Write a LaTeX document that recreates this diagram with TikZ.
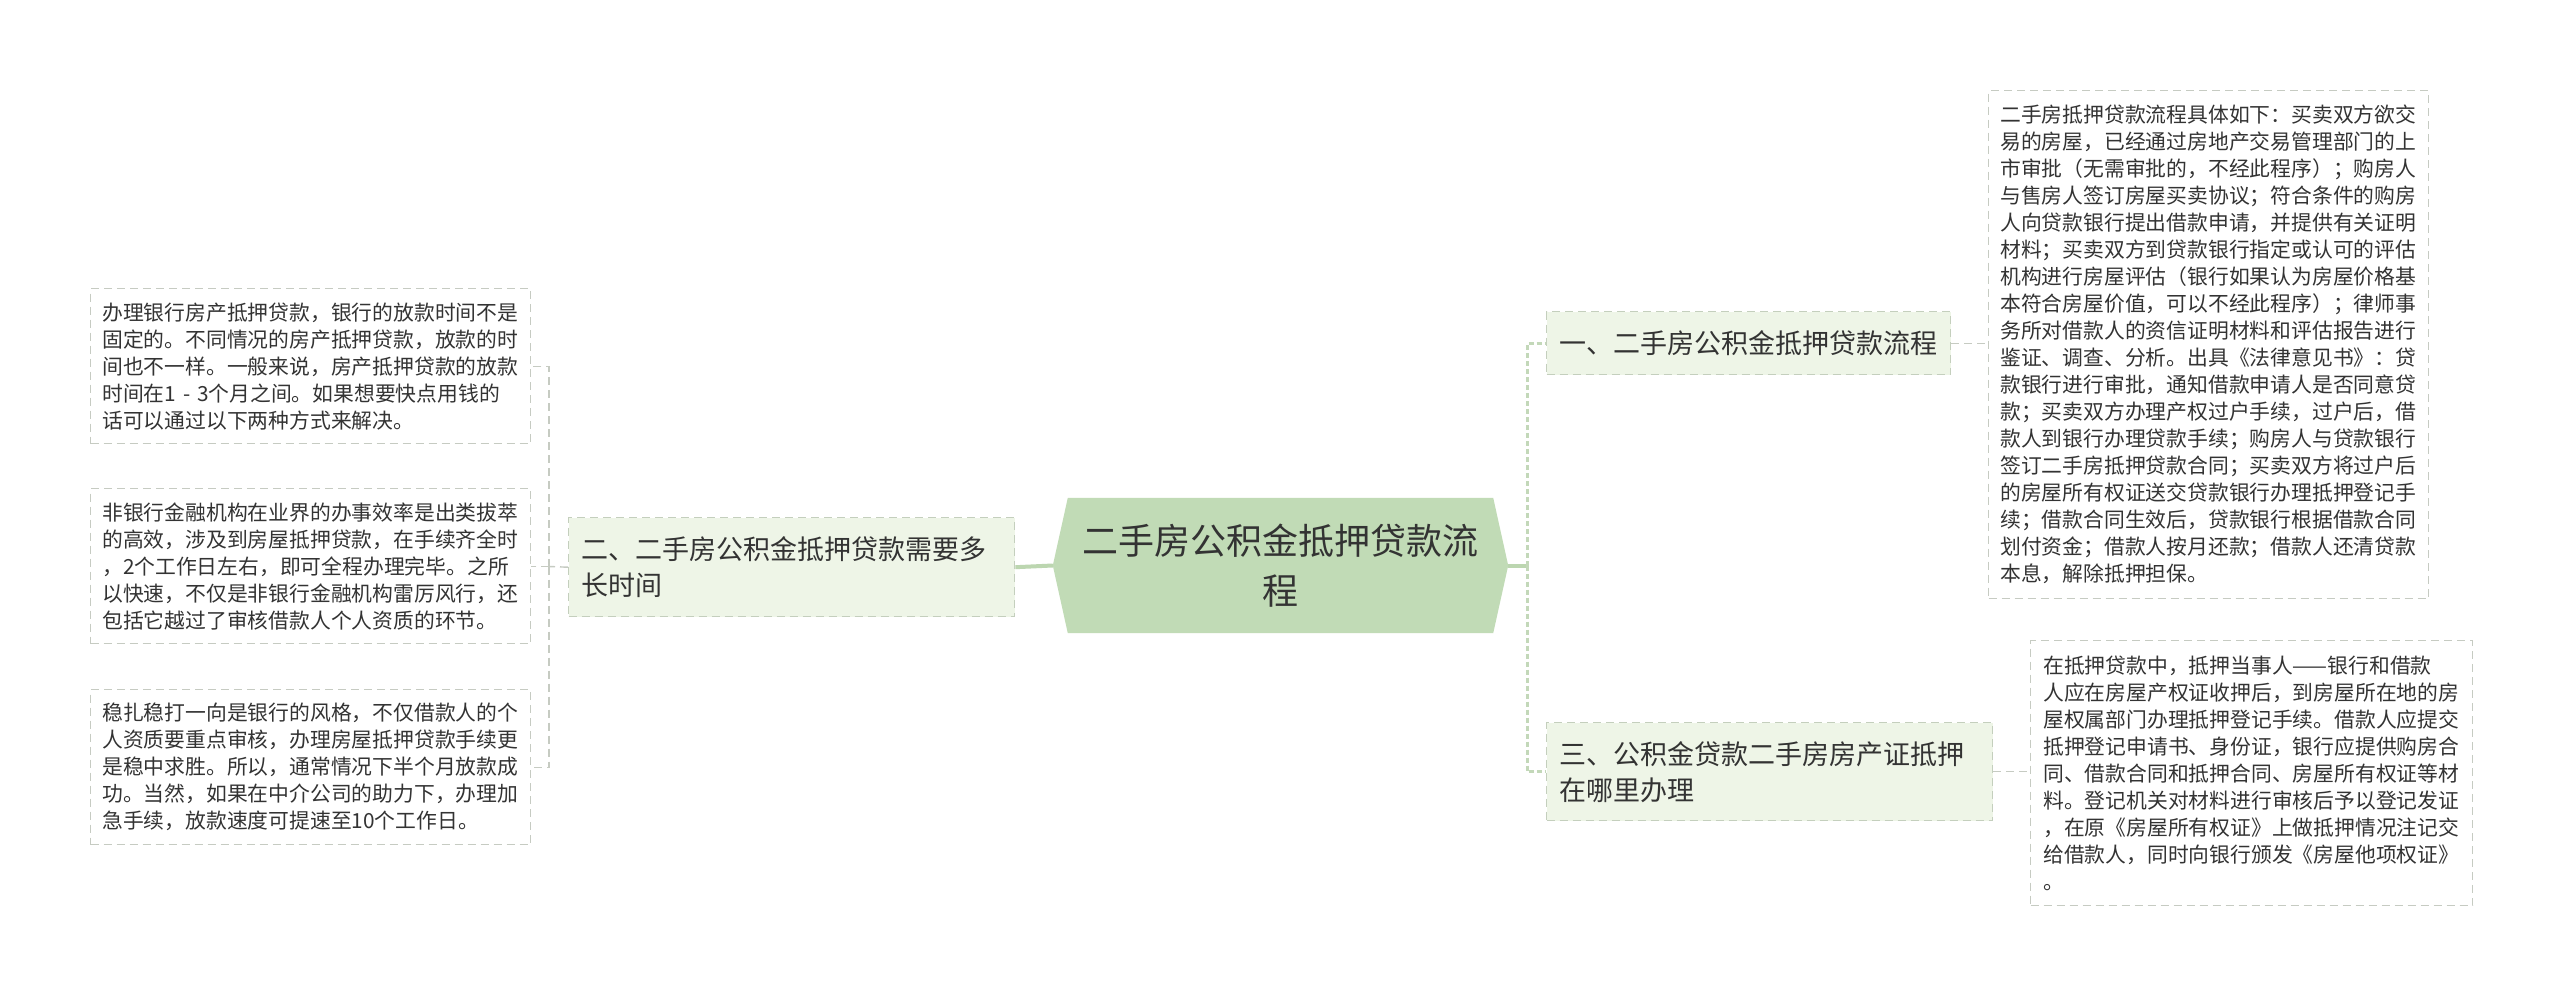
\documentclass[tikz,border=0pt]{standalone}
\usepackage{fontspec}
\newfontfamily\cjk{Noto Sans CJK SC}
\usetikzlibrary{backgrounds}
\definecolor{txt}{HTML}{333333}
\definecolor{leafgray}{HTML}{C6CBC2}
\definecolor{branchfill}{HTML}{EEF5E7}
\definecolor{branchborder}{HTML}{C4CFBD}
\definecolor{cfill}{HTML}{C1DBB6}
\definecolor{linegreen}{HTML}{BCD6B0}
\definecolor{dashgreen}{HTML}{C3D8B9}
\tikzset{
  leafbox/.style={draw=leafgray, dash pattern=on 8pt off 5pt, line width=1.4pt, fill=white,
    font=\cjk\fontsize{20.8pt}{27pt}\selectfont, text=txt, align=left, text width=417pt,
    inner sep=0pt, anchor=north west},
  branchbox/.style={draw=branchborder, dash pattern=on 8pt off 5pt, line width=1.4pt, fill=branchfill,
    font=\cjk\fontsize{27pt}{36pt}\selectfont, text=txt, align=left, inner sep=0pt, anchor=north west},
  central/.style={font=\cjk\fontsize{36pt}{50pt}\selectfont, text=txt, align=center,
    minimum width=425pt, minimum height=135pt, inner sep=0pt},
  mainline/.style={draw=linegreen, line width=4pt},
  maindash/.style={draw=dashgreen, line width=3pt, dash pattern=on 5pt off 3pt},
  subdash/.style={draw=leafgray, line width=1.4pt, dash pattern=on 8pt off 5pt},
}
\begin{document}
\begin{tikzpicture}[x=1pt,y=-1pt]
\useasboundingbox (0,0) rectangle (2560,993);

% central node
\node[central] (c) at (1280.5,565.5) {二手房公积金抵押贷款流\\程};
\begin{scope}[on background layer]
\fill[white] (0,0) rectangle (2560,993);
\fill[cfill] (c.north west) -- (c.north east) -- ([xshift=15pt]c.east) -- (c.south east)
  -- (c.south west) -- ([xshift=-15pt]c.west) -- cycle;
\end{scope}
\coordinate (cL) at ([xshift=-15pt]c.west);
\coordinate (cR) at ([xshift=15pt]c.east);

% branches
\node[branchbox, minimum width=446pt, minimum height=99pt, text width=420pt] (b2) at (568,517)
  {二、二手房公积金抵押贷款需要多\\长时间};
\node[branchbox, minimum width=404pt, minimum height=63pt, text width=378pt] (b1) at (1546,311)
  {一、二手房公积金抵押贷款流程};
\node[branchbox, minimum width=446pt, minimum height=98pt, text width=420pt] (b3) at (1546,722)
  {三、公积金贷款二手房房产证抵押\\在哪里办理};

% left leaves
\node[leafbox, minimum width=440pt, minimum height=155pt] (l1) at (90,288)
  {办理银行房产抵押贷款，银行的放款时间不是\\固定的。不同情况的房产抵押贷款，放款的时\\间也不一样。一般来说，房产抵押贷款的放款\\时间在1 - 3个月之间。如果想要快点用钱的\\话可以通过以下两种方式来解决。};
\node[leafbox, minimum width=440pt, minimum height=155pt] (l2) at (90,488)
  {非银行金融机构在业界的办事效率是出类拔萃\\的高效，涉及到房屋抵押贷款，在手续齐全时\\，2个工作日左右，即可全程办理完毕。之所\\以快速，不仅是非银行金融机构雷厉风行，还\\包括它越过了审核借款人个人资质的环节。};
\node[leafbox, minimum width=440pt, minimum height=155pt] (l3) at (90,689)
  {稳扎稳打一向是银行的风格，不仅借款人的个\\人资质要重点审核，办理房屋抵押贷款手续更\\是稳中求胜。所以，通常情况下半个月放款成\\功。当然，如果在中介公司的助力下，办理加\\急手续，放款速度可提速至10个工作日。};

% right leaves
\node[leafbox, minimum width=440pt, minimum height=508pt] (r1) at (1988,90)
  {二手房抵押贷款流程具体如下：买卖双方欲交\\易的房屋，已经通过房地产交易管理部门的上\\市审批（无需审批的，不经此程序）；购房人\\与售房人签订房屋买卖协议；符合条件的购房\\人向贷款银行提出借款申请，并提供有关证明\\材料；买卖双方到贷款银行指定或认可的评估\\机构进行房屋评估（银行如果认为房屋价格基\\本符合房屋价值，可以不经此程序）；律师事\\务所对借款人的资信证明材料和评估报告进行\\鉴证、调查、分析。出具《法律意见书》：贷\\款银行进行审批，通知借款申请人是否同意贷\\款；买卖双方办理产权过户手续，过户后，借\\款人到银行办理贷款手续；购房人与贷款银行\\签订二手房抵押贷款合同；买卖双方将过户后\\的房屋所有权证送交贷款银行办理抵押登记手\\续；借款合同生效后，贷款银行根据借款合同\\划付资金；借款人按月还款；借款人还清贷款\\本息，解除抵押担保。};
\node[leafbox, minimum width=442pt, minimum height=265pt] (r3) at (2030,640)
  {在抵押贷款中，抵押当事人——银行和借款\\人应在房屋产权证收押后，到房屋所在地的房\\屋权属部门办理抵押登记手续。借款人应提交\\抵押登记申请书、身份证，银行应提供购房合\\同、借款合同和抵押合同、房屋所有权证等材\\料。登记机关对材料进行审核后予以登记发证\\，在原《房屋所有权证》上做抵押情况注记交\\给借款人，同时向银行颁发《房屋他项权证》\\。};

% connectors: centre to branches
\draw[mainline] (cL) -- (b2.east);
\coordinate (rj) at (1527,565.5);
\draw[mainline] (cR) -- (rj);
\draw[maindash] (rj) |- (b1.west);
\draw[maindash] (rj) |- (b3.west);

% connectors: branches to leaves
\coordinate (lj) at (549,566.5);
\draw[subdash] (b2.west) -- (lj);
\draw[subdash] (lj) |- (l1.east);
\draw[subdash] (lj) |- (l2.east);
\draw[subdash] (lj) |- (l3.east);
\draw[subdash] (b1.east) -- (b1.east -| r1.west);
\draw[subdash] (b3.east) -- (b3.east -| r3.west);
\end{tikzpicture}
\end{document}
